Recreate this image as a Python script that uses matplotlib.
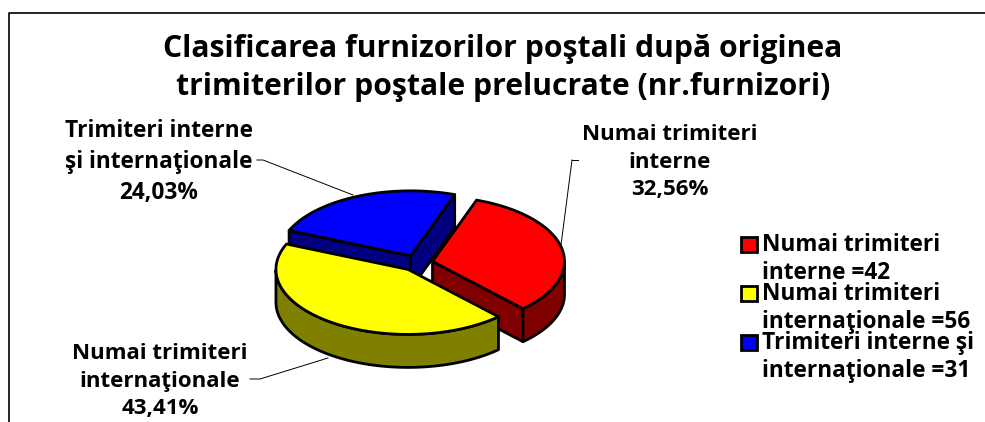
import numpy as np
import matplotlib
matplotlib.use('Agg')
import matplotlib.pyplot as plt
from matplotlib.patches import Rectangle

plt.rcParams['font.family'] = ['Open Sans', 'DejaVu Sans']
plt.rcParams['font.weight'] = 'bold'

title = 'Clasificarea furnizorilor poştali după originea\ntrimiterilor poştale prelucrate (nr.furnizori)'
counts = [42, 56, 31]
pie_labels = ['Numai trimiteri\ninterne', 'Numai trimiteri\ninternaţionale', 'Trimiteri interne\nşi internaţionale']
legend_labels = ['Numai trimiteri\ninterne =42', 'Numai trimiteri\ninternaţionale =56', 'Trimiteri interne şi\ninternaţionale =31']
top_colors = ['#ff0000', '#ffff00', '#0000ff']
side_colors = ['#800000', '#808000', '#000080']

# layout of the 3d pie, in pixels
cx, cy = 417, 263
rx, ry = 132, 65
depth = 33
explode = 0.12
start = 70.5

fig = plt.figure(figsize=(9.85, 4.22), dpi=100)
ax = fig.add_axes([0, 0, 1, 1])
ax.set_xlim(0, 985)
ax.set_ylim(422, 0)
ax.axis('off')

total = sum(counts)
sweeps = [c / total * 360 for c in counts]
ends = start - np.cumsum(sweeps)
starts = ends + np.array(sweeps)
style = dict(edgecolor='black', linewidth=2, joinstyle='round')


def ring(x0, y0, t):
    r = np.radians(t)
    return x0 + rx * np.cos(r), y0 - ry * np.sin(r)


def side_face(i, x0, y0, x1, y1):
    ax.fill([x0, x1, x1, x0], [y0, y1, y1 + depth, y0 + depth], facecolor=side_colors[i], **style)


def draw_slice(i):
    mid = np.radians((starts[i] + ends[i]) / 2)
    x0 = cx + explode * rx * np.cos(mid)
    y0 = cy - explode * ry * np.sin(mid)
    t = np.linspace(starts[i], ends[i], 100)
    x, y = ring(x0, y0, t)
    # radial side faces, only the ones turned to the viewer
    if i == 2:
        side_face(i, x0, y0, x[0], y[0])
        side_face(i, x0, y0, x[-1], y[-1])
    if i == 0:
        side_face(i, x0, y0, x[-1], y[-1])
    # front rim
    keep = np.sin(np.radians(t)) <= 0
    if keep.any():
        xr, yr = x[keep], y[keep]
        ax.fill(np.r_[xr, xr[::-1]], np.r_[yr, yr[::-1] + depth], facecolor=side_colors[i], **style)
    ax.fill(np.r_[x0, x], np.r_[y0, y], facecolor=top_colors[i], **style)


# back to front
for i in [2, 0, 1]:
    draw_slice(i)

# leader lines
ax.plot([572, 578], [160, 160], color='black', lw=0.7)
ax.plot([561, 572], [245, 160], color='black', lw=0.7)
ax.plot([257, 263, 353], [160, 160, 195], color='black', lw=0.7)
ax.plot([250, 260, 328], [379, 379, 358], color='black', lw=0.7)

ax.text(503, 68, title, ha='center', va='center', fontsize=21.7, linespacing=1.35)

# pie labels
label_pos = [(670, 162), (160, 381), (159, 162)]
label_size = [16, 16, 16.3]
for i in range(3):
    pct = f'{counts[i] / total * 100:.2f}'.replace('.', ',') + '%'
    ax.text(label_pos[i][0], label_pos[i][1], pie_labels[i] + '\n' + pct, ha='center', va='center',
            fontsize=label_size[i], linespacing=1.38)

# legend
legend_y = [259, 308, 357]
swatch_y = [237, 286, 335]
for i in range(3):
    ax.add_patch(Rectangle((741, swatch_y[i]), 16, 15, facecolor=top_colors[i], edgecolor='black', linewidth=2))
    ax.text(762, legend_y[i], legend_labels[i], ha='left', va='center', fontsize=16.3, linespacing=1.22)

# chart border
ax.plot([9, 9, 985], [422, 13, 13], color='black', lw=1.2)

fig.savefig('out.png', dpi=100)
